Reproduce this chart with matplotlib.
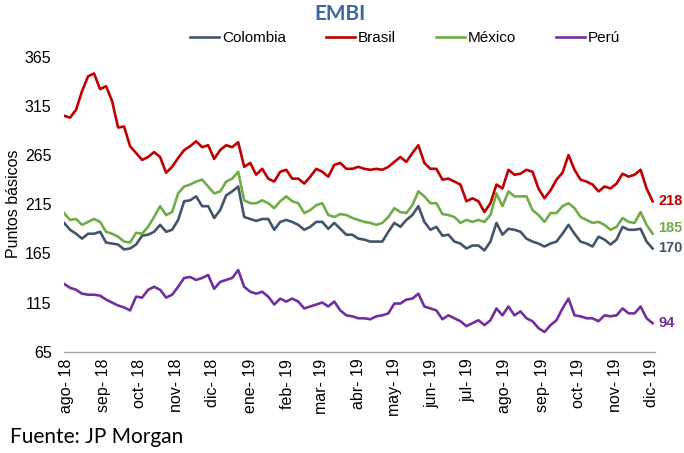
import numpy as np
import pandas as pd
import matplotlib
matplotlib.use("Agg")
import matplotlib.pyplot as plt
import matplotlib.dates as mdates

# EMBI spreads (puntos básicos), one reading every 5 days from 30-jul-2018
start_date = "2018-07-30"
step = "5D"

brasil = [305, 303, 311, 330, 345, 348, 332, 335, 320, 293, 294, 274, 267, 260, 263, 268, 263, 247, 253, 262, 270, 274,
          279, 273, 275, 261, 270, 275, 273, 278, 253, 257, 245, 251, 241, 238, 248, 250, 241, 241, 236, 243, 251,
          248, 243, 255, 257, 251, 251, 253, 251, 250, 251, 250, 253, 258, 263, 258, 267, 275, 257, 251, 251, 240,
          241, 238, 235, 218, 221, 218, 207, 216, 235, 231, 250, 245, 246, 250, 248, 231, 221, 229, 240, 247,
          265, 250, 240, 238, 235, 228, 233, 231, 236, 246, 243, 245, 250, 231, 218]

colombia = [196, 189, 185, 180, 185, 185, 187, 176, 175, 174, 169, 170, 174, 183, 184, 187, 194, 187, 189, 199, 218, 219,
            223, 213, 213, 201, 209, 224, 228, 233, 202, 200, 198, 200, 200, 189, 197, 199, 197, 194, 189, 192, 197,
            197, 190, 196, 190, 184, 184, 180, 179, 177, 177, 177, 187, 196, 192, 199, 204, 213, 197, 189, 192, 183,
            184, 177, 175, 170, 173, 173, 168, 177, 196, 184, 190, 189, 187, 180, 177, 175, 172, 175, 177, 185,
            194, 185, 177, 175, 172, 182, 179, 174, 179, 192, 189, 189, 190, 177, 170]

mexico = [206, 199, 200, 194, 197, 200, 197, 187, 185, 182, 177, 176, 186, 185, 192, 202, 213, 204, 207, 226, 233, 235,
          238, 240, 233, 226, 228, 238, 241, 248, 219, 216, 216, 219, 216, 211, 218, 223, 218, 216, 206, 209, 214,
          216, 204, 202, 205, 204, 201, 199, 197, 196, 194, 196, 202, 211, 207, 206, 214, 228, 223, 216, 216, 205,
          204, 202, 196, 199, 197, 199, 197, 204, 226, 213, 228, 223, 223, 223, 209, 204, 197, 206, 206, 213,
          216, 211, 202, 199, 196, 197, 194, 189, 192, 201, 197, 196, 207, 194, 185]

peru = [134, 130, 128, 124, 123, 123, 122, 118, 115, 112, 110, 107, 121, 120, 128, 131, 128, 120, 123, 131, 140, 141,
        138, 140, 143, 129, 136, 138, 140, 148, 131, 126, 124, 126, 121, 113, 119, 116, 119, 116, 109, 111, 113,
        115, 111, 116, 107, 102, 101, 99, 99, 98, 101, 102, 104, 114, 114, 118, 119, 124, 111, 109, 107, 98,
        102, 99, 96, 91, 94, 97, 92, 97, 109, 102, 111, 102, 106, 99, 96, 89, 85, 92, 97, 109,
        119, 102, 101, 99, 99, 96, 102, 101, 102, 109, 104, 104, 111, 99, 94]

series_names = ["Colombia", "Brasil", "México", "Perú"]
series_colors = ["#44546A", "#C00000", "#70AD47", "#7030A0"]
month_labels = ["ago- 18", "sep- 18", "oct- 18", "nov- 18", "dic- 18", "ene- 19", "feb- 19", "mar- 19", "abr- 19",
                "may- 19", "jun- 19", "jul- 19", "ago- 19", "sep- 19", "oct- 19", "nov- 19", "dic- 19"]
yticks = [65, 115, 165, 215, 265, 315, 365]

dates = pd.date_range(start_date, periods=len(brasil), freq=step)
month_ticks = pd.date_range("2018-08-01", periods=len(month_labels), freq="MS")

plt.rcParams["font.family"] = ["Liberation Sans", "DejaVu Sans"]

fig = plt.figure(figsize=(6.84, 4.53), dpi=100)
ax = fig.add_axes([0.0936, 0.2236, 0.864, 0.6512])

data = [colombia, brasil, mexico, peru]
lines = []
for vals, name, col in zip(data, series_names, series_colors):
    ln, = ax.plot(dates, vals, color=col, linewidth=1.9, label=name, solid_joinstyle="round")
    lines.append(ln)

ax.set_ylim(65, 365)
ax.set_yticks(yticks)
ax.set_xlim(pd.Timestamp("2018-07-30"), pd.Timestamp("2019-12-04"))
ax.set_xticks(month_ticks)
ax.set_xticklabels(month_labels, rotation=90)
ax.tick_params(axis="both", length=0, labelsize=11.5)
ax.tick_params(axis="y", pad=9)
ax.tick_params(axis="x", pad=5)

for side in ["top", "right", "left"]:
    ax.spines[side].set_visible(False)
ax.spines["bottom"].set_color("#A6A6A6")
ax.spines["bottom"].set_linewidth(1.0)

ax.set_ylabel("Puntos básicos", fontsize=11.5, labelpad=3)

# end-of-series labels
offsets = {"Colombia": 0, "Brasil": 0, "México": 4, "Perú": 0}
for vals, name, col in zip(data, series_names, series_colors):
    ax.annotate(f"{vals[-1]}", xy=(dates[-1], vals[-1]), xytext=(4, offsets[name]),
                textcoords="offset points", va="center", ha="left",
                color=col, fontsize=10.5, fontweight="bold", annotation_clip=False)

fig.text(340 / 684, 1 - 14 / 453, "EMBI", ha="center", va="center",
         fontsize=15, fontweight="bold", color="#3E66A0", family=["Lato", "DejaVu Sans"])

fig.legend(lines, series_names, loc="center", bbox_to_anchor=(405 / 684, 1 - 38 / 453),
           ncol=4, frameon=False, fontsize=11, handlelength=1.9, handletextpad=0.2,
           columnspacing=2.6, borderaxespad=0)

fig.text(10 / 684, 1 - 437 / 453, "Fuente: JP Morgan", ha="left", va="center",
         fontsize=15, family=["Lato", "DejaVu Sans"])

fig.savefig("out.png", dpi=100)
